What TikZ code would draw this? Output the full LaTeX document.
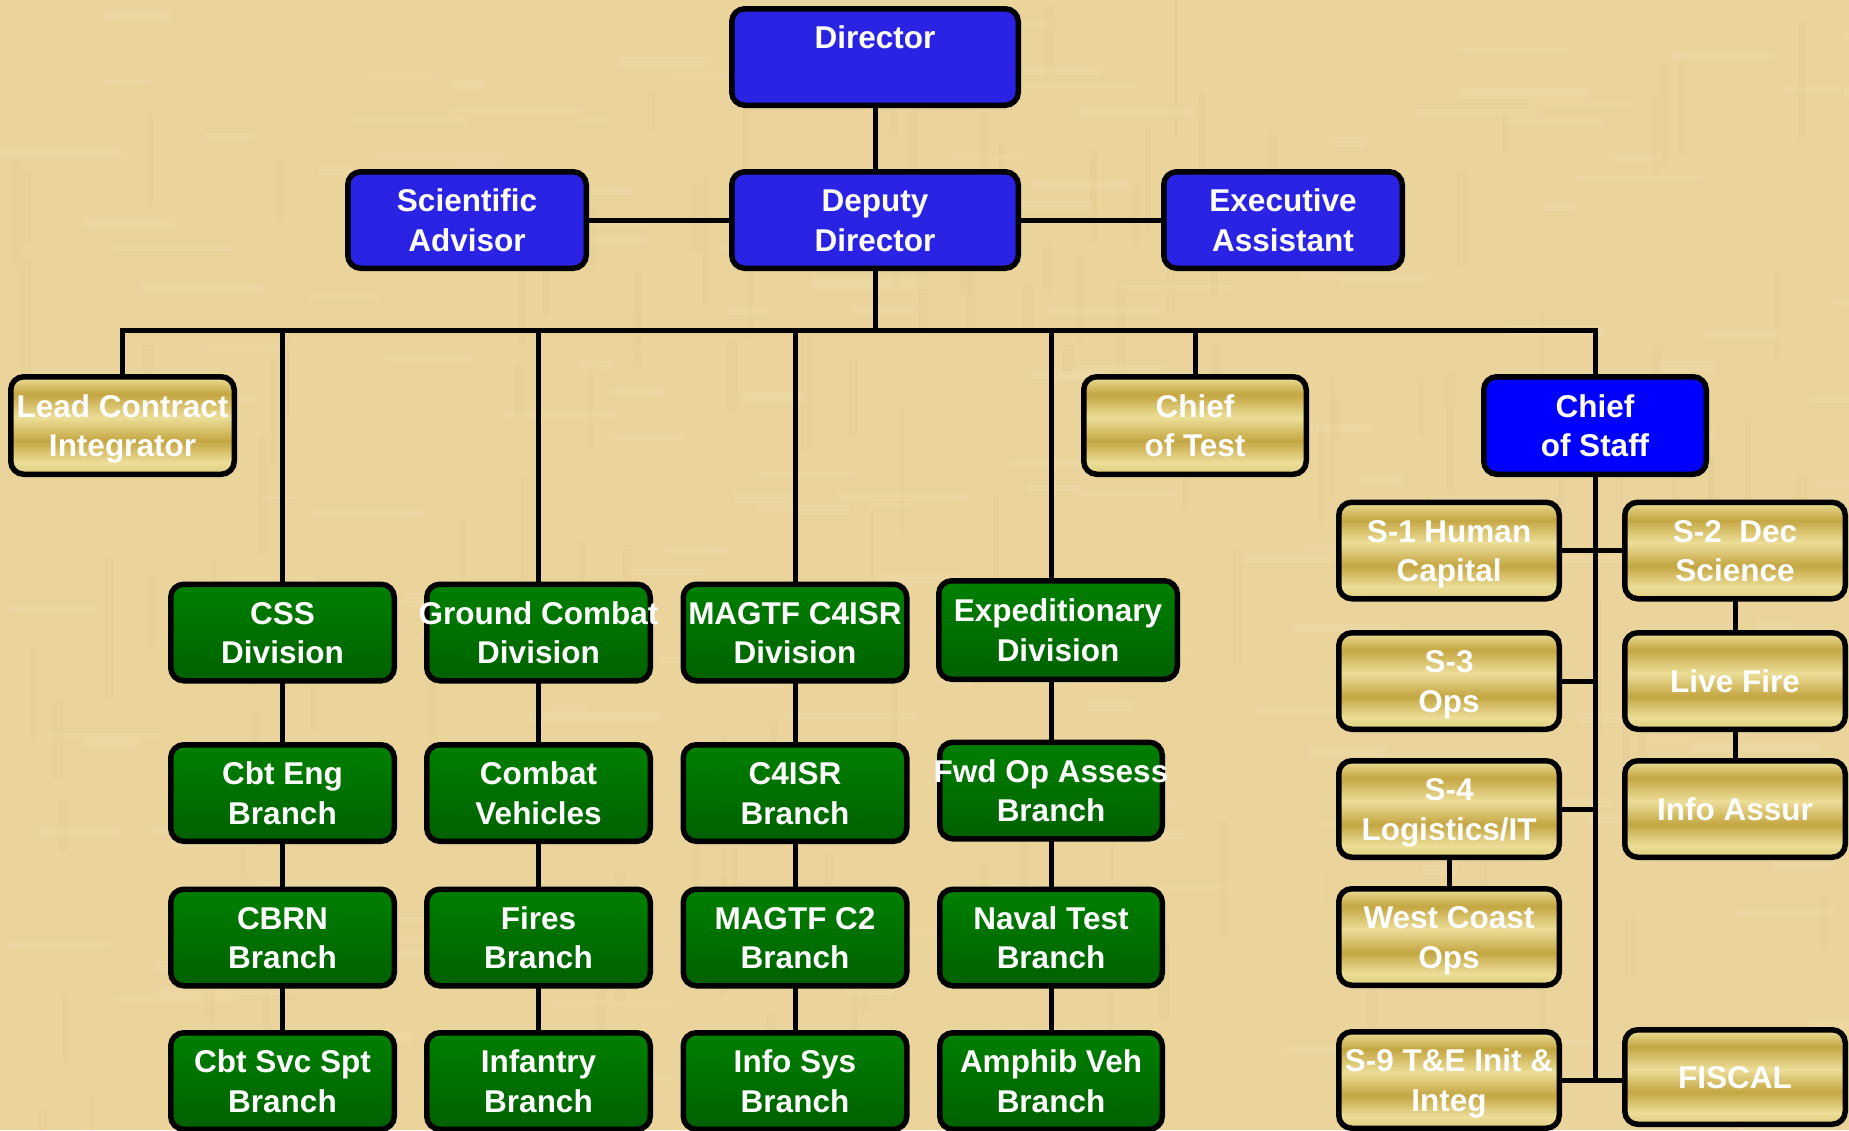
\documentclass[tikz,border=0pt]{standalone}
\usepackage{fontspec}
\setmainfont{Liberation Sans}
\usetikzlibrary{calc}

\definecolor{paper}{RGB}{234,212,156}
\definecolor{paperlight}{RGB}{243,225,176}
\definecolor{paperdark}{RGB}{220,194,130}
\definecolor{boxblue}{RGB}{43,35,228}
\definecolor{staffblue}{RGB}{0,0,255}
\definecolor{greentop}{RGB}{0,128,0}
\definecolor{greenbot}{RGB}{0,96,0}
\definecolor{goldlight}{RGB}{236,222,152}
\definecolor{golddark}{RGB}{196,166,66}
\definecolor{goldmid}{RGB}{222,204,124}

% metallic gold bands, top of the box at 75bp, bottom at 25bp
\pgfdeclareverticalshading{goldbar}{100bp}{%
  color(0bp)=(goldmid); color(25bp)=(goldmid); color(31bp)=(goldlight);
  color(42bp)=(golddark); color(54bp)=(goldlight); color(66bp)=(golddark);
  color(75bp)=(goldlight); color(100bp)=(goldlight)}

% a centred line that may run past the box edges
\newcommand{\ctrline}[1]{\makebox[0pt][c]{#1}}

\begin{document}
\begin{tikzpicture}[x=1pt,y=-1pt,
  box/.style={draw=black, line width=5.5pt, rounded corners=13pt,
    font=\bfseries\fontsize{31.5}{39.5}\selectfont, text=white, align=center,
    inner sep=0pt, outer sep=0pt, minimum width=223.5pt, minimum height=96.5pt},
  twoline/.style={text height=62.5pt, text depth=0pt},
  oneline/.style={text height=23pt, text depth=0pt},
  bluebox/.style={box, twoline, fill=boxblue},
  staffbox/.style={box, twoline, fill=staffblue},
  greenbox/.style={box, twoline, top color=greentop, bottom color=greenbot},
  goldbox/.style={box, twoline, shading=goldbar},
  link/.style={draw=black, line width=5pt}
]
\useasboundingbox (0,0) rectangle (1849,1130);
\fill[paper] (0,0) rectangle (1849,1130);

% parchment mottling
\begin{scope}
  \pgfmathsetseed{7}
  \foreach \i in {1,...,320}{
    \pgfmathsetmacro{\px}{rnd*1849}
    \pgfmathsetmacro{\py}{rnd*1130}
    \pgfmathsetmacro{\pw}{30+rnd*110}
    \pgfmathsetmacro{\ph}{3+rnd*8}
    \pgfmathsetmacro{\pk}{rnd}
    \ifdim\pk pt<0.55pt
      \fill[paperlight, opacity=0.3] (\px,\py) rectangle ++(\pw,\ph);
    \else
      \fill[paperdark, opacity=0.12] (\px,\py) rectangle ++(\ph,\pw);
    \fi
  }
\end{scope}

% top management
\node[bluebox, minimum width=286.5pt] (dir) at (875,57) {Director\\ \mbox{}};
\node[bluebox, minimum width=286.5pt] (dd) at (875,220) {Deputy\\Director};
\node[bluebox, minimum width=238.5pt] (sa) at (467,220) {Scientific\\Advisor};
\node[bluebox, minimum width=238.5pt] (ea) at (1283,220) {Executive\\Assistant};

% second tier
\node[goldbox, minimum height=97.5pt] (lci) at (122.5,425.5) {\ctrline{Lead Contract}\\Integrator};
\node[goldbox, minimum width=222.5pt, minimum height=97.5pt] (cot) at (1195,425.5) {Chief\\of Test};
\node[staffbox, minimum width=222.5pt, minimum height=97.5pt] (cos) at (1595,425.5) {Chief\\of Staff};

% divisions
\node[greenbox] (css) at (282.5,632.5) {CSS\\Division};
\node[greenbox] (gcd) at (538.5,632.5) {\ctrline{Ground Combat}\\Division};
\node[greenbox] (mcd) at (795,632.5) {\ctrline{MAGTF C4ISR}\\Division};
\node[greenbox, minimum width=238.5pt, minimum height=98.5pt] (exd) at (1058,630) {Expeditionary\\Division};

% branches
\node[greenbox] (ceb) at (282.5,793) {Cbt Eng\\Branch};
\node[greenbox] (cvb) at (538.5,793) {Combat\\Vehicles};
\node[greenbox] (c4b) at (795,793) {C4ISR\\Branch};
\node[greenbox, minimum width=222.5pt] (fob) at (1051,790.5) {\ctrline{Fwd Op Assess}\\Branch};

\node[greenbox] (cbrn) at (282.5,937.5) {CBRN\\Branch};
\node[greenbox] (fib) at (538.5,937.5) {Fires\\Branch};
\node[greenbox] (c2b) at (795,937.5) {MAGTF C2\\Branch};
\node[greenbox, minimum width=222.5pt] (ntb) at (1051,937.5) {Naval Test\\Branch};

\node[greenbox] (csb) at (282.5,1081) {Cbt Svc Spt\\Branch};
\node[greenbox] (inb) at (538.5,1081) {Infantry\\Branch};
\node[greenbox] (isb) at (795,1081) {Info Sys\\Branch};
\node[greenbox, minimum width=222.5pt] (avb) at (1051,1081) {Amphib Veh\\Branch};

% staff sections
\node[goldbox, minimum width=220.5pt] (s1) at (1449,550.5) {S-1 Human\\Capital};
\node[goldbox, minimum width=220.5pt] (s2) at (1735,550.5) {S-2\ \ Dec\\Science};
\node[goldbox, minimum width=220.5pt] (s3) at (1449,681) {S-3\\Ops};
\node[goldbox, oneline, minimum width=220.5pt] (lf) at (1735,681) {Live Fire};
\node[goldbox, minimum width=220.5pt] (s4) at (1449,809) {S-4\\Logistics/IT};
\node[goldbox, oneline, minimum width=220.5pt] (ia) at (1735,809) {Info Assur};
\node[goldbox, minimum width=220.5pt] (wc) at (1449,937) {West Coast\\Ops};
\node[goldbox, minimum width=220.5pt] (s9) at (1449,1080) {\ctrline{S-9 T\&E Init \&}\\Integ};
\node[goldbox, oneline, minimum width=220.5pt, minimum height=94.5pt] (fis) at (1735,1077) {FISCAL};

% connectors
\coordinate (bus) at (0,330.5);
\draw[link] (dir) -- (dd);
\draw[link] (sa) -- (dd);
\draw[link] (dd) -- (ea);
\draw[link] (dd) -- (dd |- bus);
\draw[link, line join=miter] (lci) -- (lci |- bus) -| (cos);
\draw[link] (cot) -- (cot |- bus);

\draw[link] (css) -- (css |- bus);
\draw[link] (gcd) -- (gcd |- bus);
\draw[link] (mcd) -- (mcd |- bus);
\draw[link] (exd.north -| fob) -- (fob |- bus);

\draw[link] (css) -- (ceb);
\draw[link] (ceb) -- (cbrn);
\draw[link] (cbrn) -- (csb);
\draw[link] (gcd) -- (cvb);
\draw[link] (cvb) -- (fib);
\draw[link] (fib) -- (inb);
\draw[link] (mcd) -- (c4b);
\draw[link] (c4b) -- (c2b);
\draw[link] (c2b) -- (isb);
\draw[link] (exd.south -| fob) -- (fob);
\draw[link] (fob) -- (ntb);
\draw[link] (ntb) -- (avb);

\draw[link] (cos) -- (cos |- s9.east);
\draw[link] (s1) -- (s2);
\draw[link] (s3) -- (s3 -| cos);
\draw[link] (s4) -- (s4 -| cos);
\draw[link] (s9.east) -- (s9.east -| fis.west);
\draw[link] (s2) -- (lf);
\draw[link] (lf) -- (ia);
\draw[link] (s4) -- (wc);
\end{tikzpicture}
\end{document}
